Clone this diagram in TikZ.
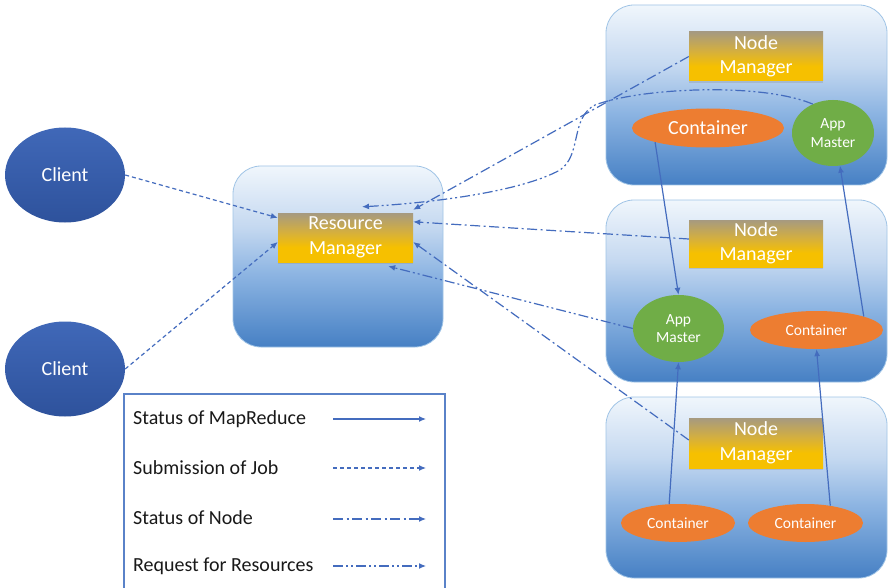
\documentclass[tikz,border=0pt]{standalone}
\usepackage{fontspec}
\setmainfont{Carlito}
\usetikzlibrary{arrows.meta,shapes.geometric,shadows}
\definecolor{lineblue}{RGB}{68,108,190}
\definecolor{boxedge}{RGB}{160,196,230}
\definecolor{boxtop}{RGB}{240,246,252}
\definecolor{boxmidA}{RGB}{196,216,240}
\definecolor{boxmidB}{RGB}{140,180,226}
\definecolor{boxbot}{RGB}{70,128,196}
\definecolor{labtop}{RGB}{166,154,128}
\definecolor{labmid}{RGB}{214,176,60}
\definecolor{labbot}{RGB}{246,192,0}
\definecolor{clientblue}{RGB}{64,104,184}
\definecolor{clientdark}{RGB}{46,82,156}
\definecolor{contorange}{RGB}{237,125,49}
\definecolor{amgreen}{RGB}{112,173,71}
\definecolor{legendedge}{RGB}{90,130,200}
\pgfdeclareverticalshading{boxshade}{100bp}{color(0bp)=(boxbot); color(25bp)=(boxbot); color(45bp)=(boxmidB); color(58bp)=(boxmidA); color(75bp)=(boxtop); color(100bp)=(boxtop)}
\pgfdeclareverticalshading{labshade}{100bp}{color(0bp)=(labbot); color(25bp)=(labbot); color(40bp)=(labbot); color(55bp)=(labmid); color(75bp)=(labtop); color(100bp)=(labtop)}
\begin{document}
\begin{tikzpicture}[x=1pt,y=-1pt,
  bigbox/.style={draw=boxedge, line width=0.8pt, rounded corners=28pt, shading=boxshade, inner sep=0pt},
  labbox/.style={shading=labshade, inner sep=0pt, text=white, align=center, font=\fontsize{20}{24.5}\selectfont,
     drop shadow={shadow xshift=0pt, shadow yshift=-2pt, opacity=0.25}},
  client/.style={ellipse, inner sep=0pt, minimum width=120pt, minimum height=95pt, top color=clientblue, bottom color=clientdark, text=white, font=\fontsize{20}{24}\selectfont},
  contbig/.style={ellipse, inner sep=0pt, fill=contorange, text=white, font=\fontsize{20}{24}\selectfont},
  contsmall/.style={ellipse, inner sep=0pt, fill=contorange, text=white, font=\fontsize{15.5}{18}\selectfont},
  appm/.style={ellipse, inner sep=0pt, fill=amgreen, text=white, align=center, font=\fontsize{15.5}{18.5}\selectfont},
  conn/.style={draw=lineblue, line width=1.2pt, -{Latex[length=7pt,width=6pt]}},
  mr/.style={conn},
  job/.style={conn, dash pattern=on 4pt off 3pt},
  nodest/.style={conn, dash pattern=on 10pt off 3.5pt on 2pt off 3.5pt},
  req/.style={conn, dash pattern=on 10pt off 3pt on 2pt off 3pt on 2pt off 3pt},
  legtext/.style={anchor=west, inner sep=0pt, text=black!90, font=\fontsize{20}{24}\selectfont}
]
\useasboundingbox (0,0) rectangle (888,588);
\fill[white] (0,0) rectangle (888,588);

% big rounded boxes
\node[bigbox, minimum width=210pt, minimum height=181pt] (rmbox) at (338,256.5) {};
\node[bigbox, minimum width=281pt, minimum height=180pt] (box1) at (746.5,95) {};
\node[bigbox, minimum width=281pt, minimum height=182pt] (box2) at (746.5,291) {};
\node[bigbox, minimum width=281pt, minimum height=181pt] (box3) at (746.5,487.5) {};

% label boxes
\node[labbox, minimum width=135pt, minimum height=49pt] (rml) at (345.5,237.5) {Resource\\Manager};
\node[labbox, minimum width=134pt, minimum height=49pt] (nm1) at (756,56.5) {Node\\Manager};
\node[labbox, minimum width=134pt, minimum height=47pt] (nm2) at (756,243.5) {Node\\Manager};
\node[labbox, minimum width=134pt, minimum height=50pt] (nm3) at (756,443) {Node\\Manager};

% clients
\node[client] (c1) at (65,175) {Client};
\node[client] (c2) at (65,369) {Client};

% containers and app masters
\node[contbig, minimum width=152pt, minimum height=39pt] (ct1) at (708,128) {Container};
\node[appm, minimum width=82pt, minimum height=66pt] (am1) at (833,133) {App\\Master};
\node[appm, minimum width=91pt, minimum height=67pt] (am2) at (678.5,328.5) {App\\Master};
\node[contsmall, minimum width=133pt, minimum height=38pt] (ct2) at (816.5,330) {Container};
\node[contsmall, minimum width=114pt, minimum height=38pt] (ct3) at (678,523) {Container};
\node[contsmall, minimum width=115pt, minimum height=38pt] (ct4) at (805.5,523) {Container};

% connectors
\draw[job] (c1.east) -- ([yshift=-5pt]rml.north west);
\draw[job] (c2.east) -- ([yshift=-4.5pt]rml.west);
\draw[nodest] (nm1.west) -- ([yshift=3pt]rml.north east);
\draw[nodest] ([yshift=4.5pt]nm2.west) -- ([yshift=-9pt]rml.north east);
\draw[nodest] ([yshift=3pt]nm3.west) -- ([yshift=-4.5pt]rml.east);
\draw[req] (am2.west) -- ([xshift=-25pt,yshift=-4pt]rml.south east);
\draw[req] (am1.125) .. controls (760,82) and (640,88) .. (595,105)
   .. controls (570,118) and (582,155) .. (560,170)
   .. controls (520,192) and (430,203) .. ([xshift=16.5pt,yshift=6pt]rml.north);
\draw[mr] (ct1.195) -- (am2.north);
\draw[mr] (ct2.16) -- (am1.282);
\draw[mr] (ct3.115) -- (am2.south);
\draw[mr] (ct4.35) -- (ct2.south);

% legend
\draw[legendedge, line width=1.3pt] (124,600) -- (124,394) -- (445,394) -- (445,600);
\node[legtext] (lt1) at (133,419) {Status of MapReduce};
\node[legtext] (lt2) at (133,468) {Submission of Job};
\node[legtext] (lt3) at (133,518) {Status of Node};
\node[legtext] (lt4) at (133,566) {Request for Resources};
\coordinate (la1) at (333,419); \coordinate (lb1) at (426,419);
\coordinate (la2) at (333,468); \coordinate (lb2) at (426,468);
\coordinate (la3) at (333,519); \coordinate (lb3) at (426,519);
\coordinate (la4) at (333,566); \coordinate (lb4) at (426,566);
\draw[mr] (la1) -- (lb1);
\draw[job] (la2) -- (lb2);
\draw[nodest] (la3) -- (lb3);
\draw[req] (la4) -- (lb4);
\end{tikzpicture}
\end{document}
